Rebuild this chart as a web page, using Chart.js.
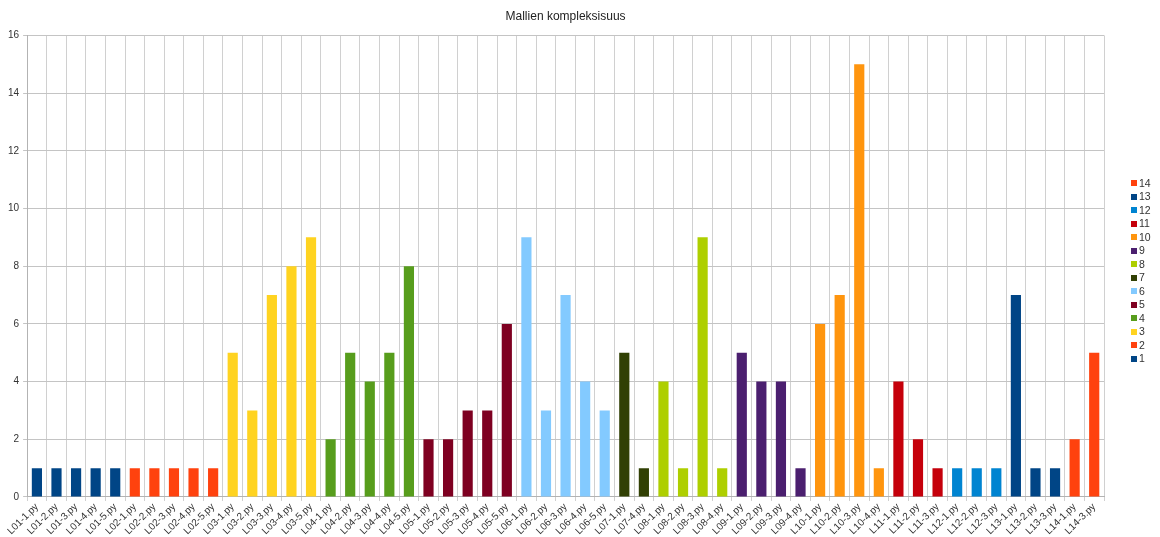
<!DOCTYPE html>
<html>
<head>
<meta charset="utf-8">
<script src="https://cdn.jsdelivr.net/npm/chart.js@4/dist/chart.umd.min.js"></script>
<style>
  html, body { margin: 0; padding: 0; background: #fff; }
  #wrap { width: 1160px; height: 537px; position: relative; }
</style>
</head>
<body>
<div id="wrap"><canvas id="c"></canvas></div>
<script>
// Files grouped by lesson number
const groups = ["1", "2", "3", "4", "5", "6", "7", "8", "9", "10", "11", "12", "13", "14"];

const fileLabels = [
  ["L01-1.py", "L01-2.py", "L01-3.py", "L01-4.py", "L01-5.py"],
  ["L02-1.py", "L02-2.py", "L02-3.py", "L02-4.py", "L02-5.py"],
  ["L03-1.py", "L03-2.py", "L03-3.py", "L03-4.py", "L03-5.py"],
  ["L04-1.py", "L04-2.py", "L04-3.py", "L04-4.py", "L04-5.py"],
  ["L05-1.py", "L05-2.py", "L05-3.py", "L05-4.py", "L05-5.py"],
  ["L06-1.py", "L06-2.py", "L06-3.py", "L06-4.py", "L06-5.py"],
  ["L07-1.py", "L07-4.py"],
  ["L08-1.py", "L08-2.py", "L08-3.py", "L08-4.py"],
  ["L09-1.py", "L09-2.py", "L09-3.py", "L09-4.py"],
  ["L10-1.py", "L10-2.py", "L10-3.py", "L10-4.py"],
  ["L11-1.py", "L11-2.py", "L11-3.py"],
  ["L12-1.py", "L12-2.py", "L12-3.py"],
  ["L13-1.py", "L13-2.py", "L13-3.py"],
  ["L14-1.py", "L14-3.py"]
];

// Complexity per file, one array per lesson
const complexity = [
  [1, 1, 1, 1, 1],
  [1, 1, 1, 1, 1],
  [5, 3, 7, 8, 9],
  [2, 5, 4, 5, 8],
  [2, 2, 3, 3, 6],
  [9, 3, 7, 4, 3],
  [5, 1],
  [4, 1, 9, 1],
  [5, 4, 4, 1],
  [6, 7, 15, 1],
  [4, 2, 1],
  [1, 1, 1],
  [7, 1, 1],
  [2, 5]
];

const groupColors = [
  "#004586", "#ff420e", "#ffd320", "#579d1c", "#7e0021", "#83caff", "#314004",
  "#aecf00", "#4b1f6f", "#ff950e", "#c5000b", "#0084d1", "#004586", "#ff420e"
];

const yTicks = [0, 2, 4, 6, 8, 10, 12, 14, 16];

const categories = fileLabels.flat();

// One dataset per lesson; other lessons' slots stay empty
let offset = 0;
const datasets = groups.map((g, i) => {
  const data = new Array(categories.length).fill(null);
  complexity[i].forEach((v, j) => { data[offset + j] = v; });
  offset += complexity[i].length;
  return {
    label: g,
    data: data,
    backgroundColor: groupColors[i],
    borderWidth: 0,
    barPercentage: 0.52,
    categoryPercentage: 1.0
  };
});

const FONT = "'Liberation Sans', Arial, sans-serif";
Chart.defaults.font.family = FONT;
Chart.defaults.color = "#333";

// Compact legend drawn in the right margin, last lesson on top
const sideLegend = {
  id: "sideLegend",
  afterDraw(chart) {
    const ctx = chart.ctx;
    const ds = chart.data.datasets;
    const step = 13.5;
    const n = ds.length;
    const midY = (chart.chartArea.top + chart.chartArea.bottom) / 2 + 5;
    const top = midY - step * (n - 1) / 2;
    const boxX = chart.chartArea.right + 27;
    ctx.save();
    ctx.font = "10.5px " + FONT;
    ctx.textBaseline = "middle";
    ctx.textAlign = "left";
    for (let k = 0; k < n; k++) {
      const d = ds[n - 1 - k];
      const y = top + k * step;
      ctx.fillStyle = d.backgroundColor;
      ctx.fillRect(boxX, Math.round(y - 3), 6, 6);
      ctx.fillStyle = "#333";
      ctx.fillText(d.label, boxX + 8, y + 0.5);
    }
    ctx.restore();
  }
};

new Chart(document.getElementById("c"), {
  type: "bar",
  data: { labels: categories, datasets: datasets },
  plugins: [sideLegend],
  options: {
    responsive: true,
    maintainAspectRatio: false,
    animation: false,
    layout: { padding: { left: 4, right: 56, top: 6, bottom: 0 } },
    plugins: {
      title: {
        display: true,
        text: "Mallien kompleksisuus",
        fullSize: false,
        color: "#222",
        font: { size: 12, weight: "normal", family: FONT },
        padding: { top: 3, bottom: 12 }
      },
      legend: { display: false },
      tooltip: { enabled: false }
    },
    scales: {
      x: {
        stacked: true,
        offset: true,
        grid: {
          offset: true,
          color: "#d0d0d0",
          tickLength: 4,
          drawTicks: true
        },
        border: { color: "#b3b3b3" },
        ticks: {
          autoSkip: false,
          maxRotation: 45,
          minRotation: 45,
          padding: 0,
          color: "#333",
          font: { size: 10, family: FONT }
        }
      },
      y: {
        stacked: true,
        min: 0,
        max: 16,
        afterBuildTicks: (axis) => { axis.ticks = yTicks.map(v => ({ value: v })); },
        grid: { color: "#c4c4c4", tickLength: 4 },
        border: { color: "#b3b3b3" },
        ticks: {
          padding: 4,
          color: "#333",
          font: { size: 10, family: FONT }
        }
      }
    }
  }
});
</script>
</body>
</html>
